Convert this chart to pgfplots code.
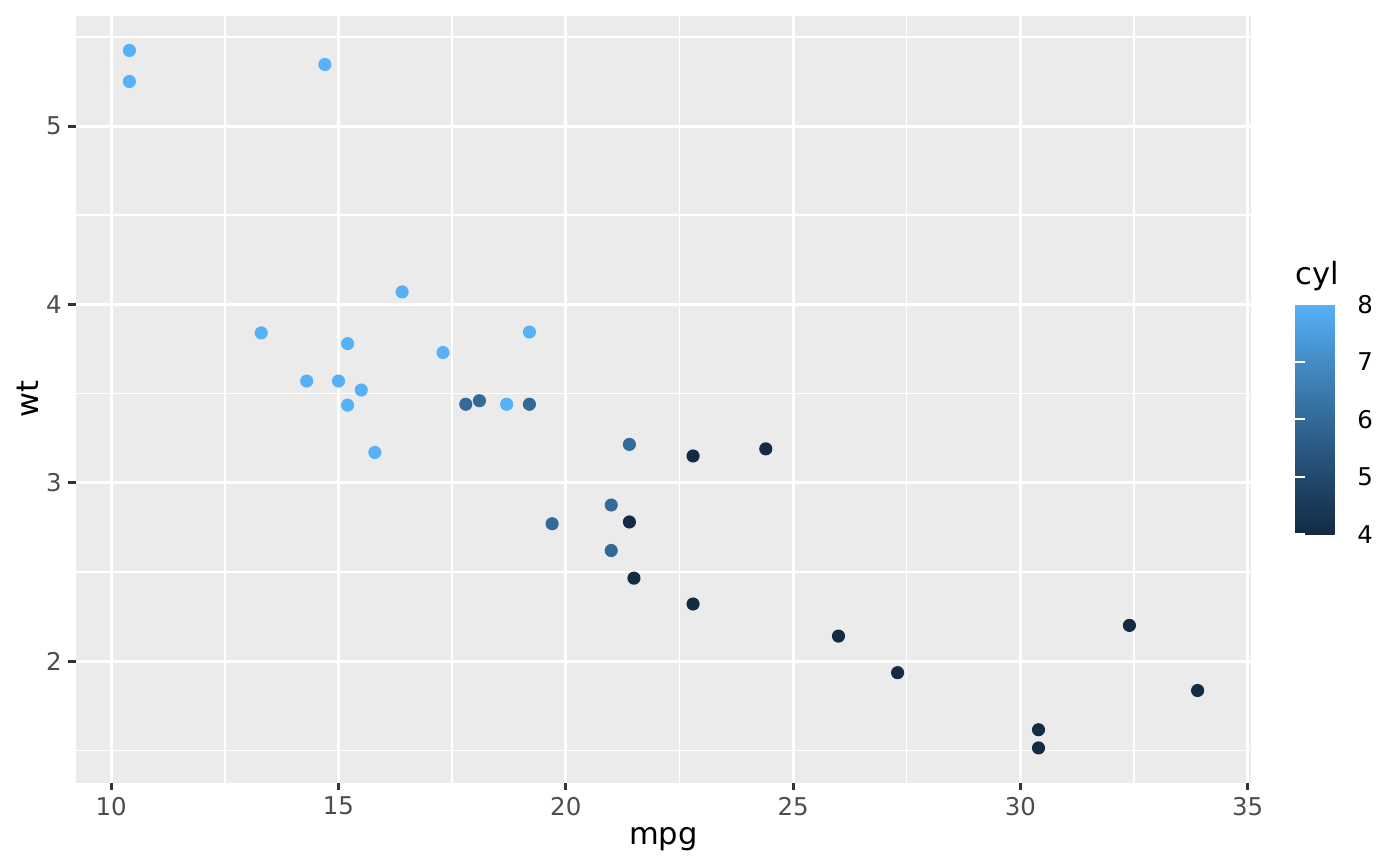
\documentclass[border=0pt]{standalone}
\usepackage{pgfplots}
\pgfplotsset{compat=1.18}
\usepackage{pgfplotstable}
\usepackage{fontspec}
\setmainfont{DejaVu Sans}

\definecolor{panelbg}{HTML}{EBEBEB}
\definecolor{grey30}{HTML}{4D4D4D}
\definecolor{grey20}{HTML}{333333}

\pgfplotstableread{
mpg  wt    cyl
21.0 2.620 6
21.0 2.875 6
22.8 2.320 4
21.4 3.215 6
18.7 3.440 8
18.1 3.460 6
14.3 3.570 8
24.4 3.190 4
22.8 3.150 4
19.2 3.440 6
17.8 3.440 6
16.4 4.070 8
17.3 3.730 8
15.2 3.780 8
10.4 5.250 8
10.4 5.424 8
14.7 5.345 8
32.4 2.200 4
30.4 1.615 4
33.9 1.835 4
21.5 2.465 4
15.5 3.520 8
15.2 3.435 8
13.3 3.840 8
19.2 3.845 8
27.3 1.935 4
26.0 2.140 4
30.4 1.513 4
15.8 3.170 8
19.7 2.770 6
15.0 3.570 8
21.4 2.780 4
}\mtcars

\begin{document}
\begin{tikzpicture}
\useasboundingbox (-27.36bp,-29.95bp) rectangle (476.64bp,281.81bp);
\begin{axis}[
    at={(0,0)}, anchor=south west,
    scale only axis,
    width=423bp, height=276.2bp,
    xmin=9.225, xmax=35.075,
    ymin=1.3174, ymax=5.6196,
    xtick={10,15,...,35},
    ytick={2,3,4,5},
    minor xtick={12.5,17.5,22.5,27.5,32.5},
    minor ytick={1.5,2.5,3.5,4.5,5.5},
    grid=both,
    major grid style={white, line width=1.07bp},
    minor grid style={white, line width=0.53bp},
    axis background/.style={fill=panelbg},
    axis line style={draw=none},
    tick align=outside,
    xtick pos=bottom, ytick pos=left,
    major tick length=2.75bp,
    minor tick length=0pt,
    major tick style={grey20, line width=1.07bp},
    /pgf/number format/assume math mode=true,
    ticklabel style={font=\fontsize{8.8bp}{10bp}\selectfont, text=grey30},
    xticklabel style={inner sep=0pt, yshift=-2.2bp},
    yticklabel style={inner sep=0pt, xshift=-2.2bp},
    xlabel={mpg}, ylabel={wt},
    label style={font=\fontsize{11bp}{13bp}\selectfont, text=black},
    xlabel style={at={(axis description cs:0.5,0)}, anchor=center, yshift=-20.2bp},
    ylabel style={at={(axis description cs:0,0.5)}, anchor=center, yshift=17.4bp},
    colormap={gg}{rgb255=(19,43,67) rgb255=(34,73,109) rgb255=(51,106,152) rgb255=(68,139,197) rgb255=(86,177,247)},
    point meta min=4, point meta max=8,
    colorbar,
    colorbar style={
        at={(parent axis.north east)}, anchor=north west,
        xshift=7.4bp, yshift=-103.9bp,
        scale only axis,
        width=18.8bp, height=82.8bp,
        ytick={4,5,6,7,8},
        axis line style={draw=none},
        tick align=inside,
        ytick pos=both,
        yticklabel pos=right,
        major tick length=3.5bp,
        major tick style={white, line width=0.6bp},
        /pgf/number format/assume math mode=true,
        yticklabel style={font=\fontsize{8.8bp}{10bp}\selectfont, text=black, inner sep=0pt, xshift=3.4bp},
        title={cyl},
        title style={at={(0,1)}, anchor=base west, yshift=1bp, inner sep=0pt,
            font=\fontsize{11bp}{13bp}\selectfont},
    },
]
\addplot[scatter, only marks, mark=*, mark size=2.16bp, point meta=explicit,
    scatter/use mapped color={draw=mapped color, fill=mapped color}]
    table[x=mpg, y=wt, meta=cyl] {\mtcars};
\end{axis}
\end{tikzpicture}
\end{document}
